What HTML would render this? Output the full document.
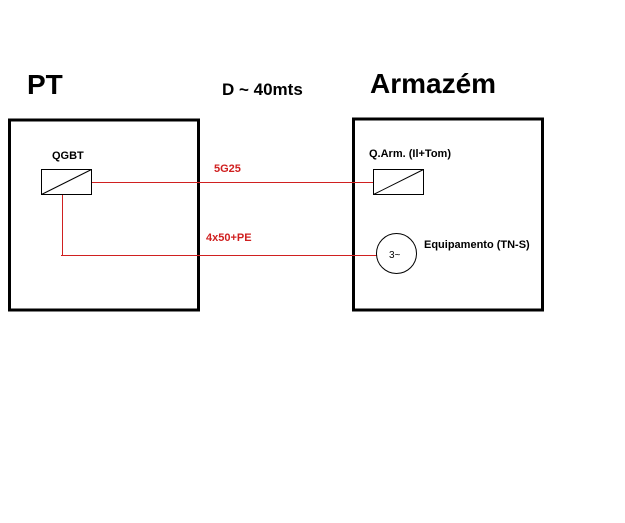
<!DOCTYPE html>
<html><head><style>html,body{margin:0;padding:0;background:#fff;width:625px;height:523px;overflow:hidden}</style></head>
<body>
<svg width="625" height="523" xmlns="http://www.w3.org/2000/svg" font-family="Liberation Sans, sans-serif" font-weight="bold">
<rect x="9.5" y="120" width="189" height="190" fill="none" stroke="#000" stroke-width="3"/>
<rect x="353.5" y="119" width="189" height="191" fill="none" stroke="#000" stroke-width="3"/>
<text x="27" y="94" font-size="28">PT</text>
<text x="222" y="95" font-size="17">D ~ 40mts</text>
<text x="370" y="93" font-size="28">Armazém</text>
<text x="52" y="159" font-size="11">QGBT</text>
<text x="369" y="157" font-size="11">Q.Arm. (Il+Tom)</text>
<text x="424" y="248" font-size="11">Equipamento (TN-S)</text>
<text x="214" y="172" font-size="11" fill="#d02020">5G25</text>
<text x="206" y="241" font-size="11" fill="#d02020">4x50+PE</text>
<g stroke="#d02020" stroke-width="1" fill="none">
<line x1="91" y1="182.5" x2="374" y2="182.5"/>
<line x1="62.5" y1="194" x2="62.5" y2="255"/>
<line x1="61" y1="255.5" x2="377" y2="255.5"/>
</g>
<g stroke="#000" stroke-width="1" fill="#fff">
<rect x="41.5" y="169.5" width="50" height="25"/>
<line x1="41.5" y1="194.5" x2="91.5" y2="169.5"/>
<rect x="373.5" y="169.5" width="50" height="25"/>
<line x1="373.5" y1="194.5" x2="423.5" y2="169.5"/>
<circle cx="396.5" cy="253.5" r="20"/>
</g>
<text x="389" y="258" font-size="10" font-weight="normal">3~</text>
</svg>
</body></html>
